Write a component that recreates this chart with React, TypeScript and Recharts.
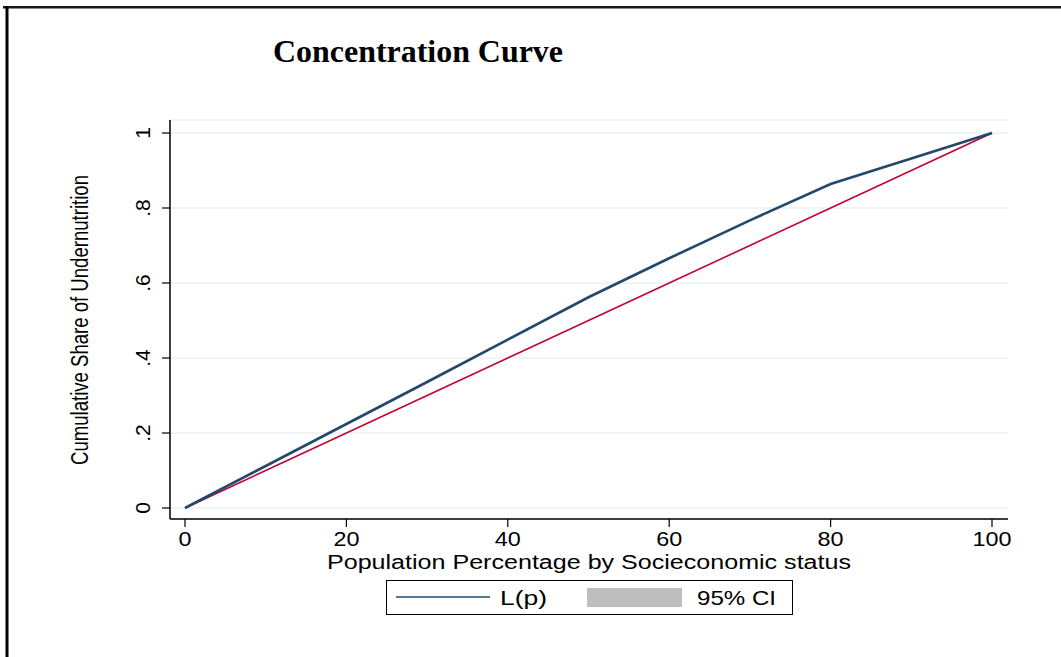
import React from "react";
import { LineChart, Line, XAxis, YAxis, CartesianGrid } from "recharts";

const population = [0, 10, 20, 30, 40, 50, 60, 70, 80, 90, 100];
const concentration = [0, 0.112, 0.224, 0.336, 0.449, 0.562, 0.666, 0.767, 0.864, 0.932, 1.0];
const equality = [0, 0.1, 0.2, 0.3, 0.4, 0.5, 0.6, 0.7, 0.8, 0.9, 1.0];
const xTicks = [0, 20, 40, 60, 80, 100];
const yTicks = [0, 0.2, 0.4, 0.6, 0.8, 1];
const yTickLabels = ["0", ".2", ".4", ".6", ".8", "1"];

const data = population.map((p, i) => ({ p, lp: concentration[i], eq: equality[i] }));

const SANS = "'Liberation Sans', Arial, sans-serif";

const XTick = (props: any) => {
  const { x, payload } = props;
  const label = String(payload.value);
  return (
    <text
      x={x}
      y={546}
      textAnchor="middle"
      fontFamily={SANS}
      fontSize={21}
      fill="#000"
      textLength={label.length * 13}
      lengthAdjust="spacingAndGlyphs"
    >
      {label}
    </text>
  );
};

const YTick = (props: any) => {
  const { y, payload } = props;
  const idx = yTicks.indexOf(payload.value);
  const bx = 150;
  return (
    <text
      x={bx}
      y={y}
      transform={`rotate(-90, ${bx}, ${y})`}
      textAnchor="middle"
      fontFamily={SANS}
      fontSize={21}
      fill="#000"
    >
      {idx >= 0 ? yTickLabels[idx] : payload.value}
    </text>
  );
};

export default function App() {
  return (
    <div style={{ position: "absolute", left: 0, top: 0, width: 1061, height: 657, background: "#fff" }}>
      <LineChart
        width={1061}
        height={657}
        data={data}
        margin={{ top: 120, right: 53, bottom: 0, left: 0 }}
      >
        <CartesianGrid horizontal={true} vertical={false} stroke="#eaf2f3" strokeWidth={1.5} />
        <XAxis
          dataKey="p"
          type="number"
          domain={[0, 100]}
          ticks={xTicks}
          padding={{ left: 15, right: 16 }}
          height={138}
          tickSize={8}
          tick={<XTick />}
          axisLine={{ stroke: "#000", strokeWidth: 1.5 }}
          tickLine={{ stroke: "#000", strokeWidth: 1.2 }}
          interval={0}
        />
        <YAxis
          type="number"
          domain={[0, 1]}
          ticks={yTicks}
          padding={{ top: 13, bottom: 11 }}
          width={170}
          tickSize={8}
          tick={<YTick />}
          axisLine={{ stroke: "#000", strokeWidth: 1.5 }}
          tickLine={{ stroke: "#000", strokeWidth: 1.2 }}
          interval={0}
        />
        <Line
          dataKey="eq"
          type="linear"
          stroke="#c10534"
          strokeWidth={1.6}
          dot={false}
          isAnimationActive={false}
        />
        <Line
          dataKey="lp"
          type="linear"
          stroke="#23486b"
          strokeWidth={2.6}
          dot={false}
          isAnimationActive={false}
        />
      </LineChart>
      <svg
        width={1061}
        height={657}
        style={{ position: "absolute", left: 0, top: 0, pointerEvents: "none" }}
      >
        <rect x={3} y={6} width={1058} height={2.5} fill="#1a1a1a" />
        <rect x={5.5} y={6} width={3} height={651} fill="#000" />
        <text
          x={273}
          y={62}
          fontFamily="'Liberation Serif', 'Times New Roman', serif"
          fontWeight="bold"
          fontSize={32}
          textLength={290}
          lengthAdjust="spacingAndGlyphs"
          fill="#000"
        >
          Concentration Curve
        </text>
        <text
          x={589}
          y={569}
          textAnchor="middle"
          fontFamily={SANS}
          fontSize={20}
          textLength={524}
          lengthAdjust="spacingAndGlyphs"
          fill="#000"
        >
          Population Percentage by Socieconomic status
        </text>
        <text
          x={88}
          y={320}
          transform="rotate(-90, 88, 320)"
          textAnchor="middle"
          fontFamily={SANS}
          fontSize={23}
          textLength={290}
          lengthAdjust="spacingAndGlyphs"
          fill="#000"
        >
          Cumulative Share of Undernutrition
        </text>
        <rect x={386.5} y={580.5} width={406} height={34} fill="#fff" stroke="#000" strokeWidth={1} />
        <line x1={396} y1={597} x2={490} y2={597} stroke="#23486b" strokeWidth={1.6} />
        <text
          x={500}
          y={605}
          fontFamily={SANS}
          fontSize={21}
          textLength={47}
          lengthAdjust="spacingAndGlyphs"
          fill="#000"
        >
          L(p)
        </text>
        <rect x={587} y={588} width={95} height={19} fill="#bebebe" />
        <text
          x={697}
          y={605}
          fontFamily={SANS}
          fontSize={21}
          textLength={79}
          lengthAdjust="spacingAndGlyphs"
          fill="#000"
        >
          95% CI
        </text>
      </svg>
    </div>
  );
}
